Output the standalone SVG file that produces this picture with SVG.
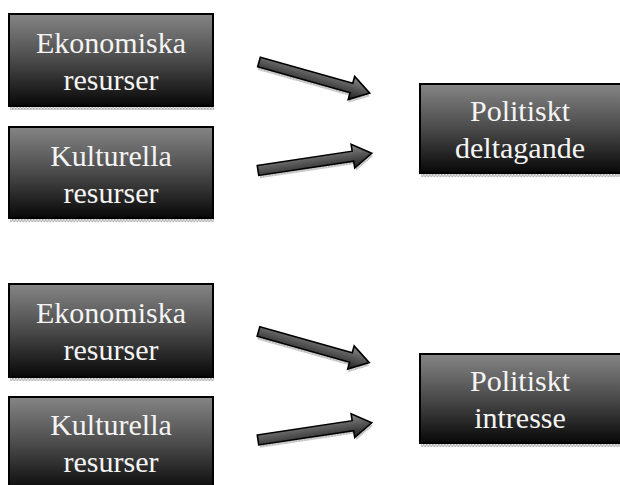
<svg xmlns="http://www.w3.org/2000/svg" width="620" height="485" viewBox="0 0 620 485">
<defs>
<linearGradient id="boxg" x1="0" y1="0" x2="0" y2="1">
<stop offset="0" stop-color="#858585"/>
<stop offset="0.5" stop-color="#4a4a4a"/>
<stop offset="1" stop-color="#080808"/>
</linearGradient>
<linearGradient id="arrg" x1="0" y1="0" x2="0" y2="1">
<stop offset="0" stop-color="#8a8a8a"/>
<stop offset="1" stop-color="#1e1e1e"/>
</linearGradient>
<pattern id="dots" width="3" height="3" patternUnits="userSpaceOnUse">
<rect width="3" height="3" fill="#e4e4e4"/>
<rect width="1.5" height="1.5" fill="#a8a8a8"/>
<rect x="1.5" y="1.5" width="1.5" height="1.5" fill="#b8b8b8"/>
</pattern>
<path id="arrow" d="M0,-5 L96,-5 L96,-12 L115,0 L96,12 L96,5 L0,5 Z"/>
</defs>
<style>
.box{fill:url(#boxg);stroke:#000;stroke-width:2}
.shadow{fill:url(#dots)}
.arr{fill:url(#arrg);stroke:#000;stroke-width:1.6;stroke-linejoin:miter}
.ashadow{fill:url(#dots)}
</style>

<g font-family="Liberation Serif, serif" font-size="30" fill="#f4f4f4" text-anchor="middle">
<g id="node-ekon1">
<rect class="shadow" x="10" y="106" width="204" height="4"/>
<rect class="box" x="9" y="14" width="204" height="92"/>
<text x="111" y="53">Ekonomiska</text>
<text x="111" y="90">resurser</text>
</g>
<g id="node-kult1">
<rect class="shadow" x="10" y="218" width="204" height="4"/>
<rect class="box" x="9" y="127" width="204" height="91"/>
<text x="111" y="166">Kulturella</text>
<text x="111" y="203">resurser</text>
</g>
<g id="node-delt">
<rect class="shadow" x="421" y="173" width="200" height="4"/>
<rect class="box" x="420" y="84" width="202" height="89"/>
<text x="520" y="121">Politiskt</text>
<text x="520" y="158">deltagande</text>
</g>
<g id="node-ekon2">
<rect class="shadow" x="10" y="377" width="204" height="4"/>
<rect class="box" x="9" y="284" width="204" height="93"/>
<text x="111" y="323">Ekonomiska</text>
<text x="111" y="360">resurser</text>
</g>
<g id="node-kult2">
<rect class="box" x="9" y="397" width="204" height="95"/>
<text x="111" y="435">Kulturella</text>
<text x="111" y="472">resurser</text>
</g>
<g id="node-intr">
<rect class="shadow" x="421" y="443" width="200" height="4"/>
<rect class="box" x="420" y="354" width="202" height="89"/>
<text x="520" y="391">Politiskt</text>
<text x="520" y="428">intresse</text>
</g>
</g>

<g id="connectors">
<g transform="translate(259,62) rotate(15.7)">
<use href="#arrow" class="ashadow" transform="translate(1,3)"/>
<use href="#arrow" class="arr"/>
</g>
<g transform="translate(258,170.5) rotate(-8.6)">
<use href="#arrow" class="ashadow" transform="translate(1,3)"/>
<use href="#arrow" class="arr"/>
</g>
<g transform="translate(258.5,331.5) rotate(15.7)">
<use href="#arrow" class="ashadow" transform="translate(1,3)"/>
<use href="#arrow" class="arr"/>
</g>
<g transform="translate(258,440) rotate(-8.6)">
<use href="#arrow" class="ashadow" transform="translate(1,3)"/>
<use href="#arrow" class="arr"/>
</g>
</g>
</svg>
